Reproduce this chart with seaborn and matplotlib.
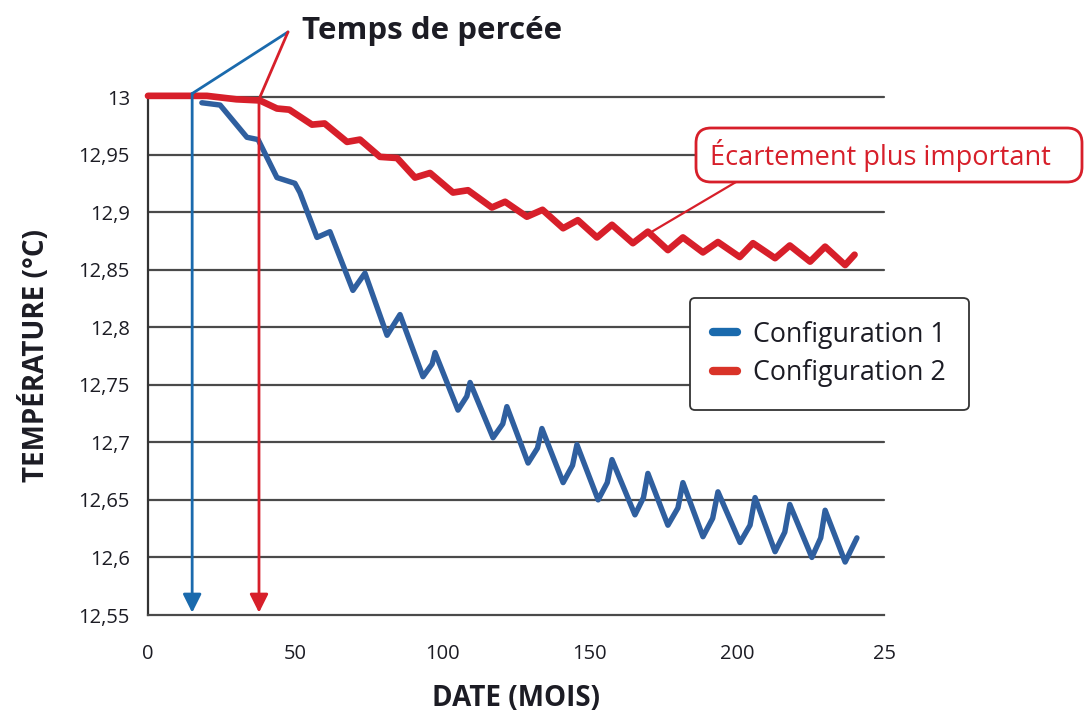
import numpy as np
import pandas as pd
import matplotlib
matplotlib.use("Agg")
import matplotlib.pyplot as plt
from matplotlib.lines import Line2D
from matplotlib.patches import FancyBboxPatch
from matplotlib.transforms import IdentityTransform
import seaborn as sns

# Values (month, temperature in °C)
mois_c1 = [18.3, 24.5, 33.6, 37.4, 43.8, 49.9, 51.6, 57.4, 61.8, 69.6, 73.7, 81.2,
           85.6, 93.4, 96.5, 97.5, 105.3, 108.3, 109.4, 117.2, 120.5, 121.9,
           129.1, 132.3, 133.8, 141.0, 144.2, 145.7, 152.9, 156.0, 157.6,
           165.4, 168.3, 169.8, 176.6, 180.0, 181.7, 188.5, 191.8, 193.6,
           201.1, 204.5, 206.2, 213.0, 216.3, 218.0, 225.5, 228.5, 230.0,
           236.8, 240.8]
temp_c1 = [12.995, 12.993, 12.965, 12.963, 12.930, 12.925, 12.917, 12.878, 12.883,
           12.832, 12.847, 12.793, 12.811, 12.757, 12.768, 12.778, 12.728, 12.740,
           12.752, 12.704, 12.716, 12.731, 12.682, 12.695, 12.712, 12.665, 12.680,
           12.698, 12.650, 12.665, 12.685, 12.637, 12.652, 12.673, 12.628, 12.643,
           12.665, 12.618, 12.634, 12.657, 12.613, 12.628, 12.652, 12.605, 12.622,
           12.646, 12.600, 12.617, 12.641, 12.596, 12.617]

mois_c2 = [0, 20, 30, 38, 43.8, 48, 55.7, 60, 67.6, 72, 78.8, 84.6, 90.7, 95.8,
           103.6, 108.7, 116.8, 121.3, 128.7, 134, 141, 146, 152.5, 157.6, 164.7,
           169.8, 176.6, 181.7, 188.5, 193.6, 201, 205.5, 213, 218, 224.9, 230,
           236.8, 240]
temp_c2 = [13.001, 13.001, 12.998, 12.997, 12.990, 12.989, 12.976, 12.977, 12.961,
           12.963, 12.948, 12.947, 12.930, 12.934, 12.917, 12.919, 12.904, 12.909,
           12.896, 12.902, 12.886, 12.893, 12.878, 12.889, 12.873, 12.883, 12.867,
           12.878, 12.865, 12.874, 12.861, 12.873, 12.860, 12.871, 12.857, 12.870,
           12.854, 12.863]

series = ["Configuration 1", "Configuration 2"]
percee_mois = [15, 37.7]
y_ticks = [12.55, 12.6, 12.65, 12.7, 12.75, 12.8, 12.85, 12.9, 12.95, 13]
y_labels = ["12,55", "12,6", "12,65", "12,7", "12,75", "12,8", "12,85", "12,9", "12,95", "13"]
x_ticks = [0, 50, 100, 150, 200, 250]
x_labels = ["0", "50", "100", "150", "200", "25"]

BLUE_LINE = "#2f5f9f"
BLUE = "#1a6aad"
RED = "#d71f2a"
TXT = "#1c1c24"

df = pd.concat([
    pd.DataFrame({"Mois": mois_c1, "Temp": temp_c1, "Config": series[0]}),
    pd.DataFrame({"Mois": mois_c2, "Temp": temp_c2, "Config": series[1]}),
])

sns.set_style("white")
plt.rcParams["font.family"] = ["Open Sans", "DejaVu Sans"]

fig = plt.figure(figsize=(10.84, 7.11), dpi=100)
ax = fig.add_axes([148/1084, 1 - 615/711, 736/1084, 518/711])

# grid lines
for yv in y_ticks[1:]:
    ax.axhline(yv, color="#4a4a4a", lw=1.6, zorder=1)

sns.lineplot(data=df, x="Mois", y="Temp", hue="Config",
             palette={series[0]: BLUE_LINE, series[1]: RED},
             linewidth=4.3, legend=False, ax=ax, sort=True, zorder=3)
for ln, lw in zip(ax.get_lines()[-2:], [3.9, 4.8]):
    ln.set_linewidth(lw)
for ln in ax.get_lines():
    ln.set_clip_on(False)
    ln.set_solid_joinstyle("round")
    ln.set_solid_capstyle("round")

ax.set_xlim(0, 250)
ax.set_ylim(12.55, 13.0)
ax.set_xticks(x_ticks)
ax.set_xticklabels(x_labels)
ax.set_yticks(y_ticks)
ax.set_yticklabels(y_labels)
ax.tick_params(axis="both", labelsize=14.5, colors=TXT, length=7, width=1.5,
               direction="out", pad=6)
ax.tick_params(axis="x", pad=14, color="#444444")
for side in ["top", "right"]:
    ax.spines[side].set_visible(False)
ax.spines["left"].set_color("#333333")
ax.spines["left"].set_linewidth(1.6)
ax.spines["bottom"].set_color("#4a4a4a")
ax.spines["bottom"].set_linewidth(1.6)

ax.set_xlabel("DATE (MOIS)", fontsize=20, fontweight="bold", color=TXT, labelpad=14)
ax.set_ylabel("TEMPÉRATURE (°C)", fontsize=20, fontweight="bold", color=TXT, labelpad=20)

# breakthrough time arrows
top_pt = (47.55, 13.0565)
for xm, yv, col in [(percee_mois[0], 13.003, BLUE), (percee_mois[1], 12.998, RED)]:
    ax.annotate("", xy=(xm, 12.552), xytext=(xm, yv),
                arrowprops=dict(arrowstyle="-|>", color=col, lw=2,
                                mutation_scale=28, shrinkA=0, shrinkB=0),
                zorder=4)
    ax.plot([xm, top_pt[0]], [yv, top_pt[1]], color=col, lw=2, clip_on=False, zorder=4)

fig.text(302/1084, 1 - 31/711, "Temps de percée", fontsize=22.5, fontweight="bold",
         color=TXT, ha="left", va="center")

# callout box (figure pixels)
box = FancyBboxPatch((696, 711 - 182), 386, 54,
                     boxstyle="round,pad=0,rounding_size=15",
                     fc="white", ec=RED, lw=2, transform=IdentityTransform(), zorder=6)
fig.add_artist(box)
fig.text(880/1084, 1 - 155/711, "Écartement plus important", fontsize=19.5,
         color=RED, ha="center", va="center", zorder=7)
ax.annotate("", xy=(170.5, 12.882), xytext=(736, 711 - 182),
            textcoords="figure pixels",
            arrowprops=dict(arrowstyle="-", color=RED, lw=1.6, shrinkA=0, shrinkB=0),
            annotation_clip=False, zorder=5)

# legend
handles = [Line2D([0], [0], color=BLUE, lw=6, solid_capstyle="round"),
           Line2D([0], [0], color="#d93328", lw=6, solid_capstyle="round")]
leg = ax.legend(handles, series, loc="upper left", bbox_to_anchor=(0.7364, 0.612),
                borderaxespad=0, fontsize=19.3, handlelength=0.9, handletextpad=0.6,
                borderpad=0.85, labelspacing=0.4, frameon=True, fancybox=True,
                framealpha=1)
leg.get_frame().set_edgecolor("#333333")
leg.get_frame().set_linewidth(1.3)
for t in leg.get_texts():
    t.set_color(TXT)

fig.savefig("out.png", dpi=100)
